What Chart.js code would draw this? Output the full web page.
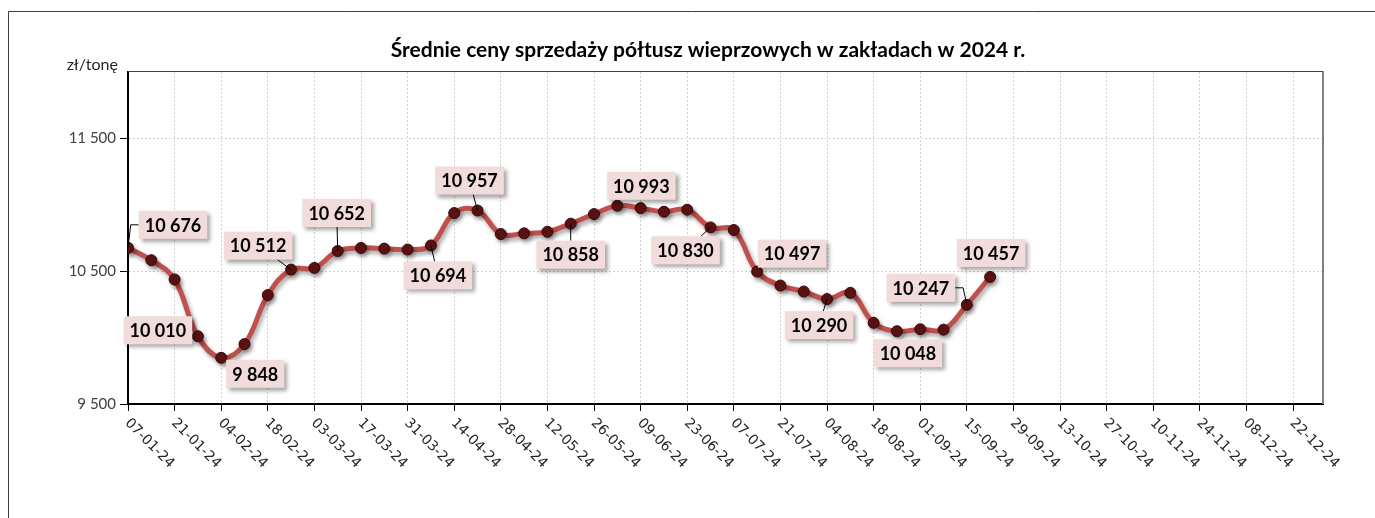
<!DOCTYPE html>
<html lang="pl">
<head>
<meta charset="utf-8">
<title>Średnie ceny sprzedaży półtusz wieprzowych</title>
<script src="https://cdn.jsdelivr.net/npm/chart.js@4.4.1/dist/chart.umd.min.js"></script>
<style>
  html, body { margin: 0; padding: 0; background: #fff; }
  #wrap { position: relative; width: 1375px; height: 518px; }
</style>
</head>
<body>
<div id="wrap"><canvas id="priceChart" width="1375" height="518"></canvas></div>
<script>
// tygodnie notowań (dd-mm-yy)
const weeks = ['07-01-24', '14-01-24', '21-01-24', '28-01-24', '04-02-24', '11-02-24', '18-02-24', '25-02-24',
    '03-03-24', '10-03-24', '17-03-24', '24-03-24', '31-03-24', '07-04-24', '14-04-24', '21-04-24',
    '28-04-24', '05-05-24', '12-05-24', '19-05-24', '26-05-24', '02-06-24', '09-06-24', '16-06-24',
    '23-06-24', '30-06-24', '07-07-24', '14-07-24', '21-07-24', '28-07-24', '04-08-24', '11-08-24',
    '18-08-24', '25-08-24', '01-09-24', '08-09-24', '15-09-24', '22-09-24'];

// zł/tonę
const prices = [10676, 10583, 10438, 10010, 9848, 9951, 10320, 10512,
    10525, 10652, 10675, 10670, 10663, 10694, 10938, 10957,
    10780, 10785, 10797, 10858, 10930, 10993, 10975, 10948,
    10963, 10830, 10810, 10497, 10392, 10347, 10290, 10337,
    10111, 10048, 10063, 10060, 10247, 10457];

const tickDates = ['07-01-24', '21-01-24', '04-02-24', '18-02-24', '03-03-24', '17-03-24', '31-03-24',
    '14-04-24', '28-04-24', '12-05-24', '26-05-24', '09-06-24', '23-06-24', '07-07-24', '21-07-24',
    '04-08-24', '18-08-24', '01-09-24', '15-09-24', '29-09-24', '13-10-24', '27-10-24', '10-11-24',
    '24-11-24', '08-12-24', '22-12-24'];
const axisEnd = '31-12-24';

const yTicks = [9500, 10500, 11500];
const yMin = 9500;
const yMax = 12000;

// punkty z etykietą wartości
const labelled = [0, 3, 4, 7, 9, 13, 15, 19, 21, 25, 27, 30, 33, 36, 37];

// położenie etykiety względem punktu: [dx, dy, linia odniesienia]
const labelPos = {
    0: [45, -23, 'elbow'], 3: [-40, -6, ''], 4: [34, 16, ''], 7: [-33, -24, 'line'],
    9: [-1, -38, 'line'], 13: [7, 30, 'line'], 15: [-8, -30, 'line'], 19: [0, 31, 'line'],
    21: [24, -20, ''], 25: [-25, 23, 'line'], 27: [35, -18, ''], 30: [-8, 26, 'line'],
    33: [11, 22, ''], 36: [-46, -17, 'elbow'], 37: [1, -24, '']
};

function dayOf(s) {
    const [d, m, y] = s.split('-').map(Number);
    return (Date.UTC(2000 + y, m - 1, d) - Date.UTC(2024, 0, 7)) / 864e5;
}

function fmt(v) {
    return String(v).replace(/\B(?=(\d{3})+(?!\d))/g, ' ');
}

const decor = {
    id: 'decor',
    beforeDraw(chart) {
        // ramka wykresu (tylko lewa i górna krawędź są widoczne)
        const c = chart.ctx;
        c.save();
        c.strokeStyle = '#404040';
        c.lineWidth = 1;
        c.beginPath();
        c.moveTo(8.5, 518);
        c.lineTo(8.5, 11.5);
        c.lineTo(1375, 11.5);
        c.stroke();
        c.restore();
    },
    beforeDatasetsDraw(chart) {
        const c = chart.ctx, a = chart.chartArea;
        c.save();
        c.strokeStyle = '#404040';
        c.lineWidth = 1;
        c.beginPath();
        c.moveTo(a.left, a.top - 0.5);
        c.lineTo(a.right + 0.5, a.top - 0.5);
        c.stroke();
        c.strokeStyle = '#808080';
        c.lineWidth = 2;
        c.beginPath();
        c.moveTo(a.right, a.top);
        c.lineTo(a.right, a.bottom);
        c.stroke();
        c.restore();
    },
    beforeDatasetDraw(chart) {
        const c = chart.ctx;
        c.save();
        c.shadowColor = 'rgba(0, 0, 0, 0.35)';
        c.shadowBlur = 4;
        c.shadowOffsetX = 2;
        c.shadowOffsetY = 3;
    },
    afterDatasetDraw(chart) {
        chart.ctx.restore();
    },
    afterDatasetsDraw(chart) {
        const c = chart.ctx;
        const pts = chart.getDatasetMeta(0).data;
        c.save();
        c.font = 'bold 18px Lato';
        c.textAlign = 'center';
        c.textBaseline = 'middle';
        labelled.forEach(i => {
            const p = pts[i];
            const [dx, dy, leader] = labelPos[i];
            const cx = p.x + dx, cy = p.y + dy;
            const w = c.measureText(fmt(prices[i])).width + 12, h = 28;
            c.strokeStyle = '#000';
            c.lineWidth = 1;
            if (leader === 'line') {
                const vx = cx - p.x, vy = cy - p.y;
                const k = Math.min((w / 2) / Math.abs(vx || 1e-6), (h / 2) / Math.abs(vy || 1e-6));
                c.beginPath();
                c.moveTo(p.x, p.y);
                c.lineTo(cx - vx * k, cy - vy * k);
                c.stroke();
            } else if (leader === 'elbow') {
                const side = dx > 0 ? -1 : 1;
                const ex = cx + side * w / 2;
                c.beginPath();
                c.moveTo(ex, cy);
                c.lineTo(ex + side * 8, cy);
                c.lineTo(p.x, p.y);
                c.stroke();
            }
            c.save();
            c.shadowColor = 'rgba(0, 0, 0, 0.35)';
            c.shadowBlur = 4;
            c.shadowOffsetX = 3;
            c.shadowOffsetY = 3;
            c.fillStyle = '#f2dcdb';
            c.fillRect(cx - w / 2, cy - h / 2, w, h);
            c.restore();
            c.fillStyle = '#000';
            c.fillText(fmt(prices[i]), cx, cy + 1);
        });
        c.restore();
    },
    afterDraw(chart) {
        const c = chart.ctx, a = chart.chartArea, xs = chart.scales.x;
        c.save();
        c.fillStyle = '#000';
        c.font = 'bold 21px Lato';
        c.textAlign = 'center';
        c.textBaseline = 'middle';
        c.fillText('Średnie ceny sprzedaży półtusz wieprzowych w zakładach w 2024 r.', 708, 50);

        c.font = '16px Lato';
        c.fillStyle = '#262626';
        c.textAlign = 'right';
        c.fillText('zł/tonę', a.left - 10, a.top - 7);

        c.font = '14px "DejaVu Sans"';
        c.fillStyle = '#262626';
        c.textAlign = 'left';
        tickDates.forEach(t => {
            const px = xs.getPixelForValue(dayOf(t));
            c.save();
            c.translate(px - 1, a.bottom + 17);
            c.rotate(Math.PI / 4);
            c.fillText(t, 0, 0);
            c.restore();
        });
        c.restore();
    }
};

document.addEventListener('DOMContentLoaded', function() {
    const ctx = document.getElementById('priceChart').getContext('2d');
    new Chart(ctx, {
        type: 'line',
        data: {
            datasets: [{
                label: 'Średnie ceny sprzedaży',
                data: weeks.map((w, i) => ({ x: dayOf(w), y: prices[i] })),
                borderColor: '#c0504d',
                borderWidth: 5,
                tension: 0.4,
                pointRadius: 5.5,
                pointBackgroundColor: '#5c1212',
                pointBorderColor: '#3b0808',
                pointBorderWidth: 1,
                fill: false
            }]
        },
        options: {
            responsive: false,
            animation: false,
            devicePixelRatio: 1,
            layout: { padding: { left: 48, top: 72, right: 52, bottom: 14 } },
            plugins: {
                legend: { display: false },
                title: { display: false },
                tooltip: { enabled: false }
            },
            scales: {
                x: {
                    type: 'linear',
                    min: 0,
                    max: dayOf(axisEnd),
                    afterBuildTicks: s => { s.ticks = tickDates.map(t => ({ value: dayOf(t) })); },
                    afterFit: s => { s.height = 100; },
                    ticks: { display: false },
                    grid: { color: '#d0d0d0', tickColor: '#000', tickLength: 7, tickBorderDash: [] },
                    border: { color: '#000', width: 2, dash: [2, 2] }
                },
                y: {
                    min: yMin,
                    max: yMax,
                    afterBuildTicks: s => { s.ticks = yTicks.map(v => ({ value: v })); },
                    afterFit: s => { s.width = 80; },
                    ticks: {
                        padding: 4,
                        color: '#404040',
                        font: { family: 'Lato', size: 15 },
                        callback: v => fmt(v)
                    },
                    grid: { color: '#d0d0d0', tickColor: '#000', tickLength: 8, tickBorderDash: [] },
                    border: { color: '#000', width: 2, dash: [2, 2] }
                }
            }
        },
        plugins: [decor]
    });
});
</script>
</body>
</html>
